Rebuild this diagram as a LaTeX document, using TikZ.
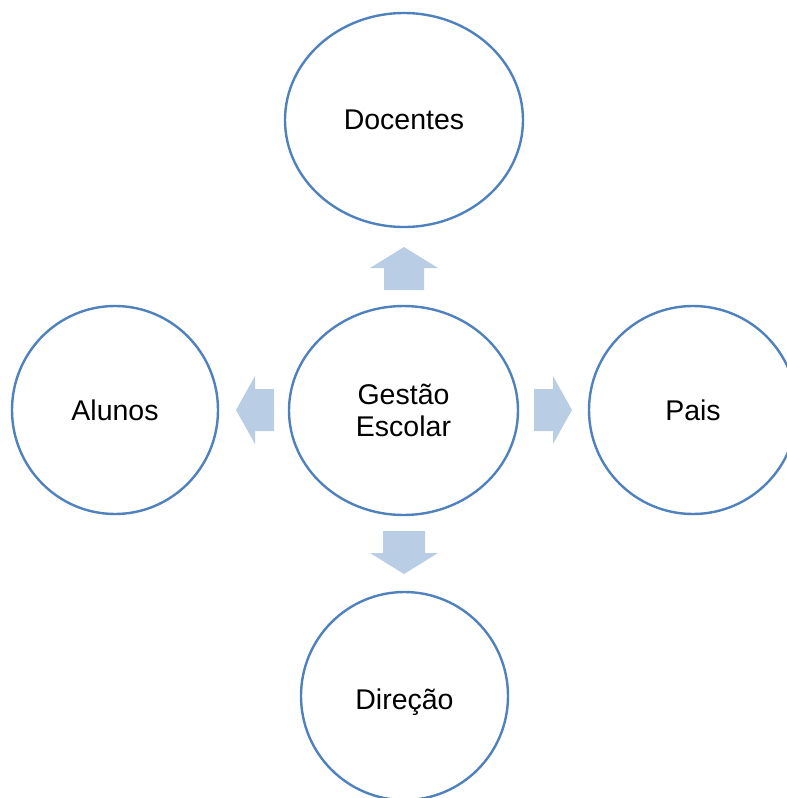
\documentclass[tikz,border=0pt]{standalone}
\usepackage{fontspec}
\setmainfont{Liberation Sans}
\usetikzlibrary{shapes.geometric}
\definecolor{ringblue}{RGB}{79,129,189}
\definecolor{arrowblue}{RGB}{185,205,229}
\tikzset{
  ring/.style={ellipse, draw=ringblue, line width=2.4pt, fill=white,
    inner sep=0pt, align=center, font=\fontsize{28.5}{32}\selectfont},
  blockarrow/.style={fill=arrowblue, draw=none}
}
\begin{document}
\begin{tikzpicture}[x=1pt, y=-1pt]
  \useasboundingbox (0,0) rectangle (787,798);
  % the four outer circles and the centre one
  \node[ring, minimum width=238pt, minimum height=214pt] (docentes) at (404,120) {Docentes};
  \node[ring, minimum width=229pt, minimum height=209pt] (gestao) at (403.5,410.5) {Gestão\\Escolar};
  \node[ring, minimum width=206pt, minimum height=208pt] (alunos) at (115,410) {Alunos};
  \node[ring, minimum width=208pt, minimum height=208pt] (pais) at (693,410) {Pais};
  \node[ring, minimum width=207pt, minimum height=208pt] (direcao) at (404.5,696) {};
  \node[font=\fontsize{28.5}{32}\selectfont, anchor=base] (direcaotxt) at (404.5,709) {Direção};
  % block arrows
  \draw[blockarrow] (404,247) -- (438,268) -- (424,268) -- (424,290)
    -- (384,290) -- (384,268) -- (370,268) -- cycle;
  \draw[blockarrow] (383,531) -- (425,531) -- (425,553) -- (438,553)
    -- (404,574) -- (370,553) -- (383,553) -- cycle;
  \draw[blockarrow] (534,389) -- (553,389) -- (553,376) -- (572,410)
    -- (553,444) -- (553,431) -- (534,431) -- cycle;
  \draw[blockarrow] (274,389) -- (255,389) -- (255,376) -- (236,410)
    -- (255,444) -- (255,431) -- (274,431) -- cycle;
\end{tikzpicture}
\end{document}
